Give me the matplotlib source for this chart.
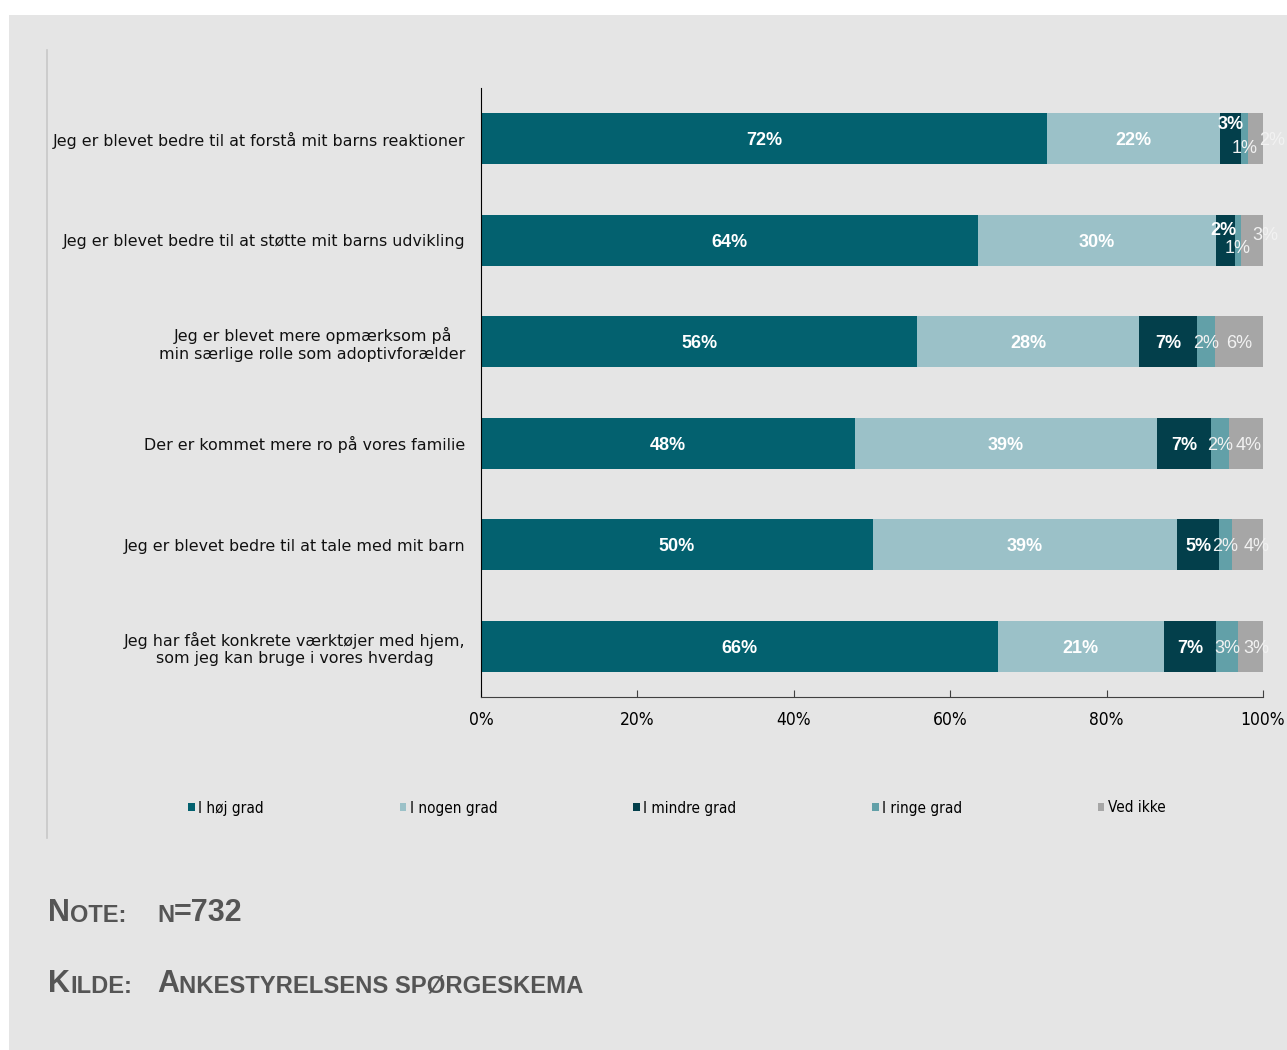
import matplotlib
matplotlib.use("Agg")
import matplotlib.pyplot as plt
from matplotlib.patches import Rectangle, Patch
from matplotlib.lines import Line2D
import numpy as np

# data
categories = [
    "Jeg er blevet bedre til at forstå mit barns reaktioner",
    "Jeg er blevet bedre til at støtte mit barns udvikling",
    "Jeg er blevet mere opmærksom på\nmin særlige rolle som adoptivforælder",
    "Der er kommet mere ro på vores familie",
    "Jeg er blevet bedre til at tale med mit barn",
    "Jeg har fået konkrete værktøjer med hjem,\nsom jeg kan bruge i vores hverdag",
]
series_names = ["I høj grad", "I nogen grad", "I mindre grad", "I ringe grad", "Ved ikke"]
hoej = [72.4, 63.6, 55.8, 47.8, 50.1, 66.1]
nogen = [22.1, 30.4, 28.4, 38.7, 38.9, 21.2]
mindre = [2.7, 2.4, 7.4, 6.8, 5.4, 6.7]
ringe = [0.9, 0.8, 2.2, 2.4, 1.6, 2.8]
vedikke = [1.9, 2.8, 6.3, 4.3, 4.0, 3.2]
xticks = [0, 20, 40, 60, 80, 100]

colors = ["#03616f", "#9bc1c8", "#033f4b", "#62a0a8", "#a6a6a6"]
bg = "#e5e5e5"

# label nudges in points (row, series) -> (dx, dy)
nudge = {
    (0, 2): (0, 11.5), (0, 3): (0, -5.8), (0, 4): (12, 0),
    (1, 2): (-1.8, 8.6), (1, 3): (0, -4.3), (1, 4): (9.4, 5),
    (3, 4): (2, 0), (4, 4): (6.8, 0), (5, 4): (4, 0),
}

fig = plt.figure(figsize=(12.87, 10.5), dpi=100, facecolor="white")
fig.patches.append(Rectangle((9 / 1287, 0), 1, 1 - 15 / 1050, transform=fig.transFigure,
                             facecolor=bg, edgecolor="none", zorder=-10))
fig.lines.append(Line2D([47 / 1287, 47 / 1287], [212 / 1050, 1000 / 1050],
                        transform=fig.transFigure, color="#c8c8c8", lw=1.2))

ax = fig.add_axes([481 / 1287, 353 / 1050, 782 / 1287, 609 / 1050])
ax.set_facecolor(bg)

y = np.arange(len(categories))
all_series = [hoej, nogen, mindre, ringe, vedikke]
left = np.zeros(len(categories))
for s, (vals, name, col) in enumerate(zip(all_series, series_names, colors)):
    vals = np.array(vals)
    bars = ax.barh(y, vals, left=left, height=0.5, color=col, label=name)
    for i, (v, l) in enumerate(zip(vals, left)):
        dx, dy = nudge.get((i, s), (0, 0))
        bold = s < 3
        ax.annotate(f"{v:.0f}%", xy=(l + v / 2, i), xytext=(dx, dy),
                    textcoords="offset points", ha="center", va="center_baseline",
                    fontsize=13, family="Liberation Sans",
                    fontweight="bold" if bold else "normal",
                    color="white" if bold else "#f2f2f2")
    left += vals

ax.set_xlim(0, 100)
ax.set_ylim(len(categories) - 0.5, -0.5)
ax.set_xticks(xticks)
ax.set_xticklabels([f"{t}%" for t in xticks], fontsize=12.5, family="DejaVu Sans",
                   fontstretch="condensed")
ax.set_yticks(y)
ax.set_yticklabels(categories, fontsize=11.4, family="DejaVu Sans",
                   multialignment="center", color="#111111")
ax.tick_params(axis="y", length=0, pad=11)
ax.tick_params(axis="x", direction="in", length=5, color="#404040", pad=10)
for sp in ["top", "right"]:
    ax.spines[sp].set_visible(False)
ax.spines["left"].set_color("black")
ax.spines["bottom"].set_color("#404040")

handles = [Patch(facecolor=c, edgecolor="none") for c in colors]
fig.legend(handles, series_names, loc="center", bbox_to_anchor=(677 / 1287, 242 / 1050),
           ncol=5, frameon=False, handlelength=0.42, handleheight=0.42,
           handletextpad=0.22, columnspacing=8.9,
           prop={"family": "DejaVu Sans", "stretch": "condensed", "size": 11})

# note and source, small caps
def smallcaps(parts, x, y):
    t = fig.text(x, y, parts[0][0], fontsize=parts[0][1], fontweight="bold",
                 family="Liberation Sans", color="#555555", va="bottom")
    for txt, size in parts[1:]:
        off = 0.212 * (parts[0][1] - size)
        t = ax.annotate(txt, xy=(1, 0), xycoords=t, xytext=(0, off), textcoords="offset points",
                        fontsize=size, fontweight="bold", family="Liberation Sans",
                        color="#555555", va="bottom", ha="left", annotation_clip=False)
    return t

smallcaps([("N", 22), ("OTE:", 17)], 48 / 1287, 122 / 1050)
smallcaps([("N", 17), ("=732", 22)], 157 / 1287, 123.5 / 1050)
smallcaps([("K", 22), ("ILDE:", 17)], 48 / 1287, 51 / 1050)
smallcaps([("A", 22), ("NKESTYRELSENS SPØRGESKEMA", 17.2)], 157 / 1287, 51 / 1050)

fig.savefig("out.png", dpi=100, facecolor="white")
